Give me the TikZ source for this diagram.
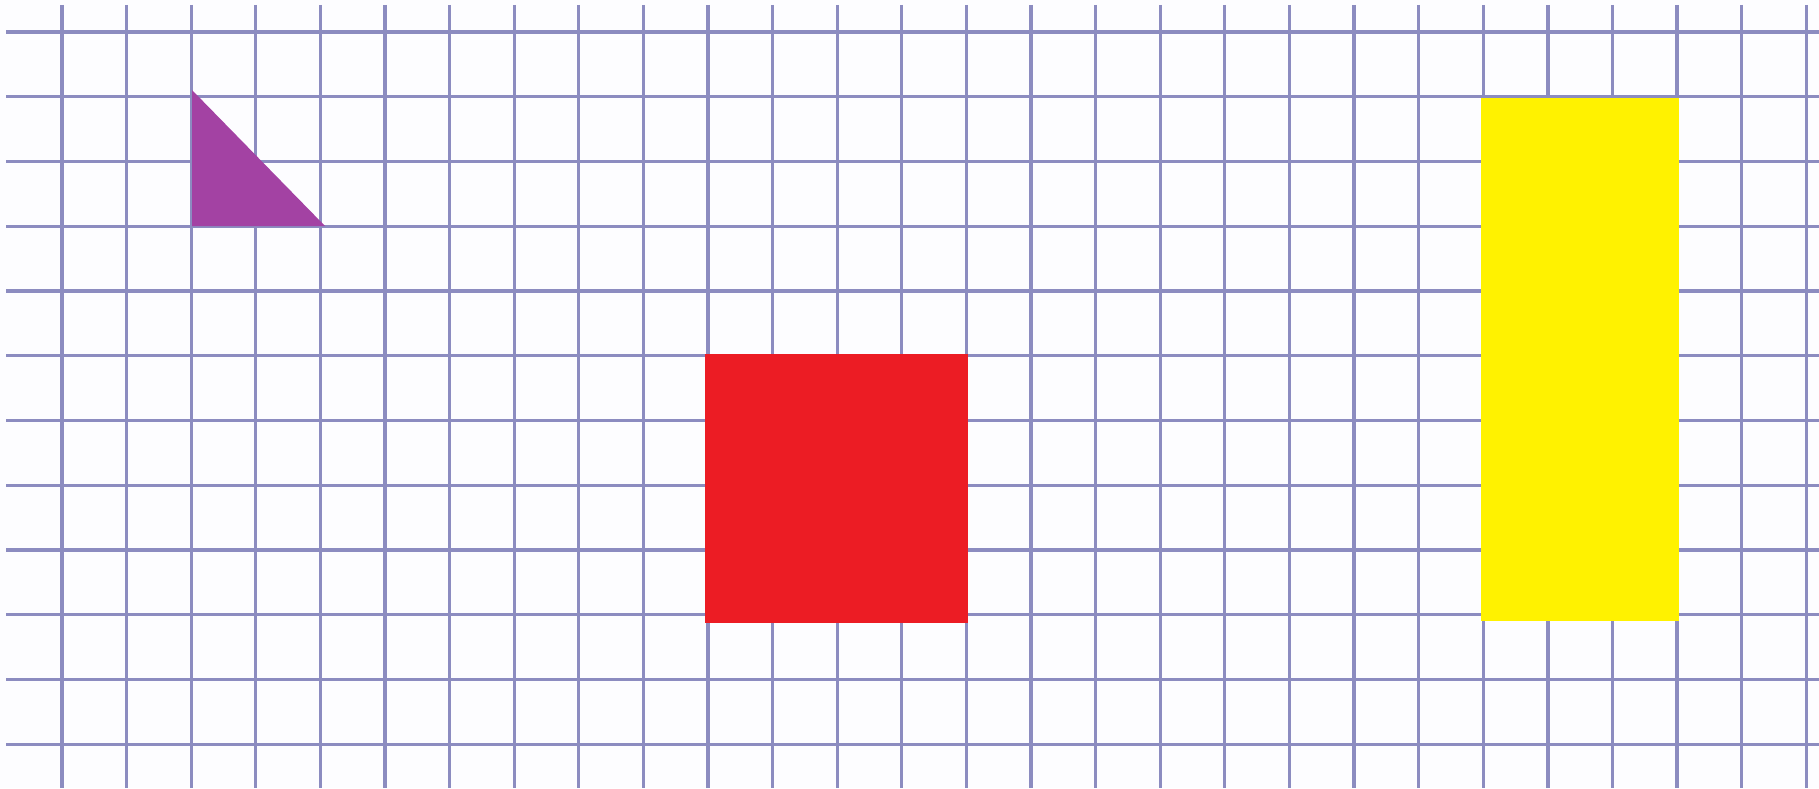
\documentclass[tikz,border=0pt]{standalone}
\definecolor{gridcol}{RGB}{140,140,192}
\definecolor{paper}{RGB}{253,253,255}
\definecolor{tricol}{RGB}{163,66,163}
\definecolor{redcol}{RGB}{236,28,36}
\definecolor{yelcol}{RGB}{255,242,0}
\tikzset{
  gridline/.style={draw=gridcol, line width=0.95pt},
  shapefill/.style={draw=none}
}
\begin{document}
\begin{tikzpicture}[x=0.01cm, y=-0.01cm]
\useasboundingbox (0,0) rectangle (1819,788);
\fill[paper] (0,0) rectangle (1819,788);
% vertical grid lines
\foreach \i in {0,...,27} {
  \draw[gridline] ({62+64.6*\i},5) -- ({62+64.6*\i},788);
}
% horizontal grid lines
\foreach \j in {0,...,11} {
  \draw[gridline] (6,{32+64.75*\j}) -- (1819,{32+64.75*\j});
}
% purple triangle
\fill[shapefill, tricol] (192,90) -- (192,226) -- (325,226) -- cycle;
% red square
\fill[shapefill, redcol] (705,354) rectangle (968,623);
% yellow rectangle
\fill[shapefill, yelcol] (1481,98) rectangle (1679,621);
\end{tikzpicture}
\end{document}
